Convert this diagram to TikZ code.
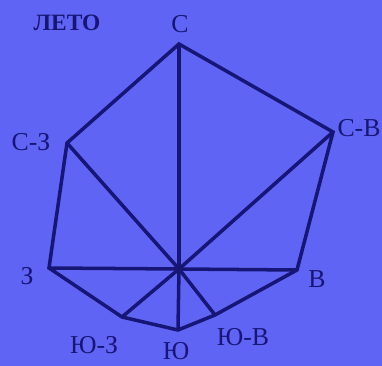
\documentclass[tikz,border=0pt]{standalone}
\usepackage{fontspec}
\setmainfont{Liberation Serif}
\usepackage{xcolor}
\definecolor{roseblue}{RGB}{96,100,244}
\definecolor{roseink}{RGB}{22,22,118}

\begin{document}
\begin{tikzpicture}[x=0.03cm, y=-0.03cm,
    edge/.style={draw=roseink, line width=3pt, line join=miter},
    lbl/.style={text=roseink, font=\fontsize{22}{24}\selectfont, inner sep=0pt},
    ttl/.style={text=roseink, font=\bfseries\fontsize{20}{22}\selectfont, inner sep=0pt}
]
\fill[roseblue] (0,0) rectangle (382,366);
\useasboundingbox (0,0) rectangle (382,366);

\coordinate (o) at (179,269);
\coordinate (n) at (179,44);
\coordinate (ne) at (333,132);
\coordinate (e) at (297,270);
\coordinate (se) at (215,315);
\coordinate (s) at (178,330);
\coordinate (sw) at (122,317);
\coordinate (w) at (49,268);
\coordinate (nw) at (67,143);

\node[ttl] (title) at (67,23) {ЛЕТО};
\node[lbl] (ln) at (180,24) {С};
\node[lbl] (lne) at (359,128) {С-В};
\node[lbl] (le) at (317,279) {В};
\node[lbl] (lse) at (243,337) {Ю-В};
\node[lbl] (ls) at (176,351) {Ю};
\node[lbl] (lsw) at (94,345) {Ю-З};
\node[lbl] (lw) at (27,276) {З};
\node[lbl] (lnw) at (31,142) {С-З};

\draw[edge] (n) -- (ne) -- (e) -- (se) -- (s) -- (sw) -- (w) -- (nw) -- cycle;
\foreach \p in {n,ne,e,se,s,sw,w,nw}
  \draw[edge] (o) -- (\p);
\end{tikzpicture}
\end{document}
